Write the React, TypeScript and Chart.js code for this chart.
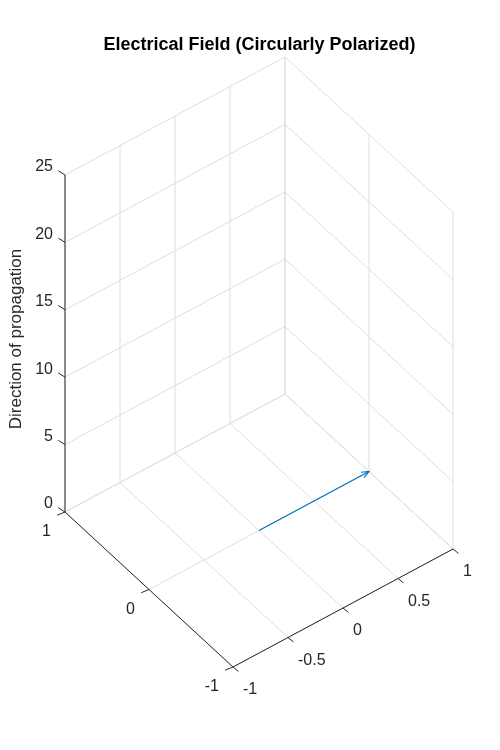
import React, { useEffect, useRef } from "react";
import { Chart, registerables } from "chart.js";

Chart.register(...registerables);

// ---- data ----
const titleText = "Electrical Field (Circularly Polarized)";
const zLabelText = "Direction of propagation";
const xTicks = [-1, -0.5, 0, 0.5, 1];
const yTicks = [-1, 0, 1];
const zTicks = [0, 5, 10, 15, 20, 25];
const xTickLabels = ["-1", "-0.5", "0", "0.5", "1"];
const yTickLabels = ["-1", "0", "1"];
const zTickLabels = ["0", "5", "10", "15", "20", "25"];
// quiver3 arrow: base (X,Y,Z) and components (U,V,W)
const qX = [0];
const qY = [0];
const qZ = [0];
const qU = [1];
const qV = [0];
const qW = [0];

// ---- view (projection of the 3-D box onto the canvas) ----
const VIEW = { ox: 259, oy: 530.5, ex: [110, -59], ey: [-84, -77.5], ez: [0, -13.48] };
function proj(x: number, y: number, z: number) {
  return {
    x: VIEW.ox + x * VIEW.ex[0] + y * VIEW.ey[0] + z * VIEW.ez[0],
    y: VIEW.oy + x * VIEW.ex[1] + y * VIEW.ey[1] + z * VIEW.ez[1],
  };
}

const GRID = "rgb(222,222,222)";
const AXIS = "rgb(38,38,38)";
const BLUE = "#0072BD";
const FONT = "'Liberation Sans', Arial, Helvetica, sans-serif";

function seg(a: number[], b: number[], color: string, width: number, order: number) {
  return {
    data: [proj(a[0], a[1], a[2]), proj(b[0], b[1], b[2])],
    showLine: true,
    borderColor: color,
    borderWidth: width,
    pointRadius: 0,
    fill: false,
    order,
  };
}

function buildDatasets() {
  const xMin = xTicks[0], xMax = xTicks[xTicks.length - 1];
  const yMin = yTicks[0], yMax = yTicks[yTicks.length - 1];
  const zMin = zTicks[0], zMax = zTicks[zTicks.length - 1];
  const ds: any[] = [];
  // floor grid
  xTicks.forEach((x) => ds.push(seg([x, yMin, zMin], [x, yMax, zMin], GRID, 1, 10)));
  yTicks.forEach((y) => ds.push(seg([xMin, y, zMin], [xMax, y, zMin], GRID, 1, 10)));
  // back wall y = yMax
  zTicks.forEach((z) => ds.push(seg([xMin, yMax, z], [xMax, yMax, z], GRID, 1, 10)));
  xTicks.forEach((x) => ds.push(seg([x, yMax, zMin], [x, yMax, zMax], GRID, 1, 10)));
  // back wall x = xMax
  zTicks.forEach((z) => ds.push(seg([xMax, yMin, z], [xMax, yMax, z], GRID, 1, 10)));
  yTicks.forEach((y) => ds.push(seg([xMax, y, zMin], [xMax, y, zMax], GRID, 1, 10)));
  // axes
  ds.push(seg([xMin, yMin, zMin], [xMax, yMin, zMin], AXIS, 1, 5));
  ds.push(seg([xMin, yMin, zMin], [xMin, yMax, zMin], AXIS, 1, 5));
  ds.push(seg([xMin, yMax, zMin], [xMin, yMax, zMax], AXIS, 1, 5));
  // arrows
  qX.forEach((_, i) => {
    ds.push(seg([qX[i], qY[i], qZ[i]], [qX[i] + qU[i], qY[i] + qV[i], qZ[i] + qW[i]], BLUE, 1.2, 1));
  });
  return ds;
}

const overlay = {
  id: "overlay",
  afterDatasetsDraw(chart: any) {
    const ctx = chart.ctx;
    const sx = chart.scales.x, sy = chart.scales.y;
    const P = (x: number, y: number, z: number) => {
      const p = proj(x, y, z);
      return { x: sx.getPixelForValue(p.x), y: sy.getPixelForValue(p.y) };
    };
    const xMin = xTicks[0];
    const yMin = yTicks[0], yMax = yTicks[yTicks.length - 1];
    const zMin = zTicks[0];
    ctx.save();
    // arrow heads
    ctx.strokeStyle = BLUE;
    ctx.fillStyle = BLUE;
    ctx.lineWidth = 1.2;
    qX.forEach((_, i) => {
      const a = P(qX[i], qY[i], qZ[i]);
      const b = P(qX[i] + qU[i], qY[i] + qV[i], qZ[i] + qW[i]);
      const ang = Math.atan2(b.y - a.y, b.x - a.x);
      const L = 8, w = 0.4;
      ctx.beginPath();
      ctx.moveTo(b.x - L * Math.cos(ang - w), b.y - L * Math.sin(ang - w));
      ctx.lineTo(b.x, b.y);
      ctx.lineTo(b.x - L * Math.cos(ang + w), b.y - L * Math.sin(ang + w));
      ctx.stroke();
    });
    // ticks
    ctx.strokeStyle = AXIS;
    ctx.lineWidth = 1;
    ctx.fillStyle = AXIS;
    ctx.font = "16px " + FONT;
    ctx.textBaseline = "middle";
    const tick = (p: any, dx: number, dy: number) => {
      ctx.beginPath();
      ctx.moveTo(p.x, p.y);
      ctx.lineTo(p.x + dx, p.y + dy);
      ctx.stroke();
    };
    zTicks.forEach((z, i) => {
      const p = P(xMin, yMax, z);
      tick(p, -6.7, -4.3);
      ctx.textAlign = "right";
      ctx.fillText(zTickLabels[i], p.x - 12, p.y - 8);
    });
    xTicks.forEach((x, i) => {
      const p = P(x, yMin, zMin);
      tick(p, 5.4, 4.4);
      ctx.textAlign = "left";
      ctx.fillText(xTickLabels[i], p.x + 10, p.y + 23);
    });
    yTicks.forEach((y, i) => {
      const p = P(xMin, y, zMin);
      tick(p, -7.8, 3.2);
      ctx.textAlign = "right";
      ctx.fillText(yTickLabels[i], p.x - 14, p.y + 20);
    });
    // title
    ctx.fillStyle = "#000";
    ctx.font = "bold 18px " + FONT;
    ctx.textAlign = "center";
    ctx.fillText(titleText, 259.5, 45);
    // z label
    ctx.fillStyle = AXIS;
    ctx.font = "17px " + FONT;
    ctx.translate(16, 339);
    ctx.rotate(-Math.PI / 2);
    ctx.textAlign = "center";
    ctx.fillText(zLabelText, 0, 0);
    ctx.restore();
  },
};

export default function App() {
  const ref = useRef<HTMLCanvasElement | null>(null);
  useEffect(() => {
    if (!ref.current) return;
    const chart = new Chart(ref.current, {
      type: "scatter",
      data: { datasets: buildDatasets() },
      options: {
        animation: false,
        responsive: false,
        maintainAspectRatio: false,
        layout: { padding: 0 },
        plugins: { legend: { display: false }, tooltip: { enabled: false }, title: { display: false } },
        scales: {
          x: { type: "linear", min: 0, max: 500, display: false },
          y: { type: "linear", min: 0, max: 750, reverse: true, display: false },
        },
      },
      plugins: [overlay],
    } as any);
    return () => chart.destroy();
  }, []);
  return (
    <div style={{ position: "absolute", left: 0, top: 0, width: 500, height: 750, background: "#fff" }}>
      <canvas ref={ref} width={500} height={750} />
    </div>
  );
}
